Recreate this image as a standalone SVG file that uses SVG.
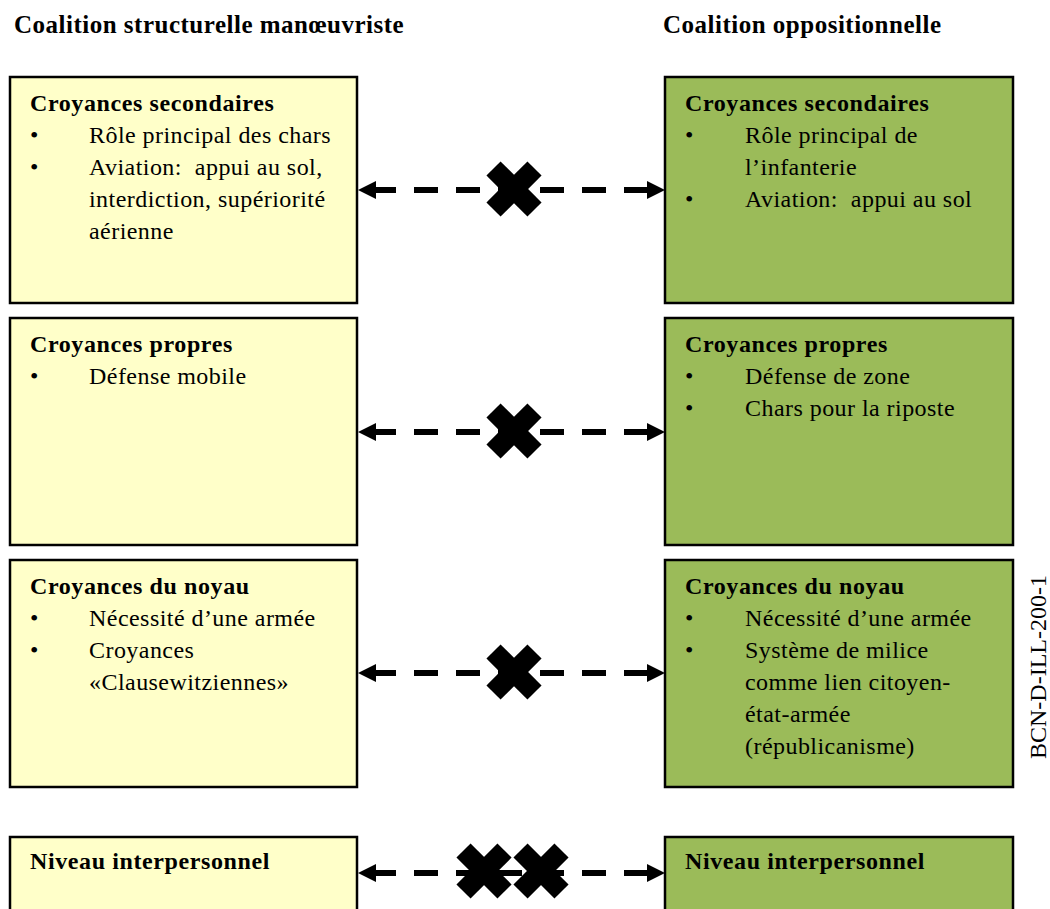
<svg xmlns="http://www.w3.org/2000/svg" width="1050" height="909" viewBox="0 0 1050 909">
  <style>
    text { font-family: "Liberation Serif", "Times New Roman", serif; fill: #000; white-space: pre; }
    .title { font-size: 25px; font-weight: bold; letter-spacing: 0.5px; }
    .head { font-size: 24px; font-weight: bold; letter-spacing: 0.6px; }
    .body { font-size: 24px; letter-spacing: 0.45px; }
    .code { font-size: 24px; }
    .box { stroke: #000; stroke-width: 2.5; }
    .yellow { fill: #FFFFC9; }
    .green { fill: #9BBB59; }
    .link { stroke: #000; stroke-width: 6; stroke-dasharray: 24 18; stroke-dashoffset: 28; fill: none; }
  </style>
  <defs>
    <marker id="arrow" markerUnits="userSpaceOnUse" markerWidth="20" markerHeight="20" refX="18" refY="9" orient="auto-start-reverse">
      <path d="M0,0 L18,9 L0,18 z" fill="#000"/>
    </marker>
    <g id="xmark">
      <rect x="-10" y="-29" width="20" height="58" transform="rotate(45)" fill="#000"/>
      <rect x="-10" y="-29" width="20" height="58" transform="rotate(-45)" fill="#000"/>
    </g>
  </defs>

  <rect width="1050" height="909" fill="#fff"/>

  <!-- column titles -->
  <text class="title" x="14" y="33">Coalition structurelle manœuvriste</text>
  <text class="title" x="663" y="33">Coalition oppositionnelle</text>

  <!-- left column -->
  <g id="left-secondary">
    <rect class="box yellow" x="10" y="77" width="347" height="226"/>
    <text class="head" x="30" y="111">Croyances secondaires</text>
    <text class="body" x="30" y="143">•</text>
    <text class="body" x="89" y="143">Rôle principal des chars</text>
    <text class="body" x="30" y="175">•</text>
    <text class="body" x="89" y="175">Aviation:  appui au sol,</text>
    <text class="body" x="89" y="207">interdiction, supériorité</text>
    <text class="body" x="89" y="239">aérienne</text>
  </g>
  <g id="left-policy">
    <rect class="box yellow" x="10" y="318" width="347" height="227"/>
    <text class="head" x="30" y="352">Croyances propres</text>
    <text class="body" x="30" y="384">•</text>
    <text class="body" x="89" y="384">Défense mobile</text>
  </g>
  <g id="left-core">
    <rect class="box yellow" x="10" y="560" width="347" height="227"/>
    <text class="head" x="30" y="594">Croyances du noyau</text>
    <text class="body" x="30" y="626">•</text>
    <text class="body" x="89" y="626">Nécessité d’une armée</text>
    <text class="body" x="30" y="658">•</text>
    <text class="body" x="89" y="658">Croyances</text>
    <text class="body" x="89" y="690">«Clausewitziennes»</text>
  </g>
  <g id="left-interpersonal">
    <rect class="box yellow" x="10" y="837" width="347" height="226"/>
    <text class="head" x="30" y="869">Niveau interpersonnel</text>
  </g>

  <!-- right column -->
  <g id="right-secondary">
    <rect class="box green" x="665" y="77" width="348" height="226"/>
    <text class="head" x="685" y="111">Croyances secondaires</text>
    <text class="body" x="685" y="143">•</text>
    <text class="body" x="745" y="143">Rôle principal de</text>
    <text class="body" x="745" y="175">l’infanterie</text>
    <text class="body" x="685" y="207">•</text>
    <text class="body" x="745" y="207">Aviation:  appui au sol</text>
  </g>
  <g id="right-policy">
    <rect class="box green" x="665" y="318" width="348" height="227"/>
    <text class="head" x="685" y="352">Croyances propres</text>
    <text class="body" x="685" y="384">•</text>
    <text class="body" x="745" y="384">Défense de zone</text>
    <text class="body" x="685" y="416">•</text>
    <text class="body" x="745" y="416">Chars pour la riposte</text>
  </g>
  <g id="right-core">
    <rect class="box green" x="665" y="560" width="348" height="227"/>
    <text class="head" x="685" y="594">Croyances du noyau</text>
    <text class="body" x="685" y="626">•</text>
    <text class="body" x="745" y="626">Nécessité d’une armée</text>
    <text class="body" x="685" y="658">•</text>
    <text class="body" x="745" y="658">Système de milice</text>
    <text class="body" x="745" y="690">comme lien citoyen-</text>
    <text class="body" x="745" y="722">état-armée</text>
    <text class="body" x="745" y="754">(républicanisme)</text>
  </g>
  <g id="right-interpersonal">
    <rect class="box green" x="665" y="837" width="348" height="226"/>
    <text class="head" x="685" y="869">Niveau interpersonnel</text>
  </g>

  <!-- blocked two-way links between the coalitions -->
  <g id="connectors">
    <line class="link" x1="358" y1="190" x2="665" y2="190" marker-start="url(#arrow)" marker-end="url(#arrow)"/>
    <use href="#xmark" x="514" y="189"/>
    <line class="link" x1="358" y1="432" x2="665" y2="432" marker-start="url(#arrow)" marker-end="url(#arrow)"/>
    <use href="#xmark" x="514" y="431"/>
    <line class="link" x1="358" y1="673" x2="665" y2="673" marker-start="url(#arrow)" marker-end="url(#arrow)"/>
    <use href="#xmark" x="514" y="672"/>
    <line class="link" x1="358" y1="873" x2="665" y2="873" marker-start="url(#arrow)" marker-end="url(#arrow)"/>
    <use href="#xmark" x="484" y="871"/>
    <use href="#xmark" x="541" y="871"/>
  </g>

  <!-- figure reference -->
  <text class="code" transform="translate(1046,667) rotate(-90)" text-anchor="middle">BCN-D-ILL-200-1</text>
</svg>
